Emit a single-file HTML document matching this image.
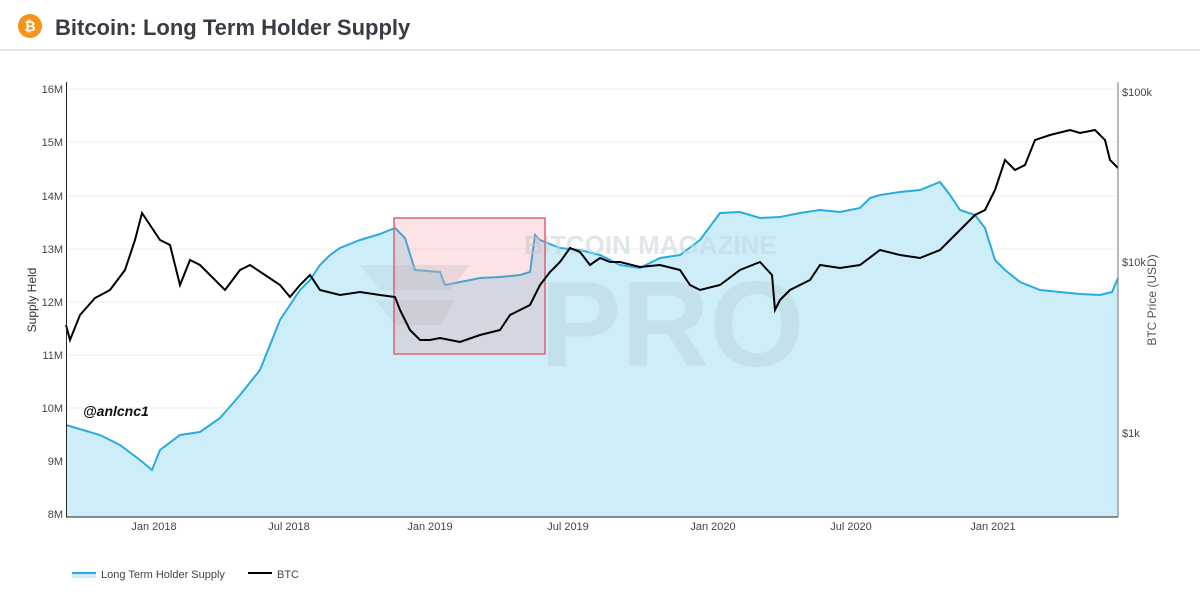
<!DOCTYPE html>
<html><head><meta charset="utf-8"><style>
body{margin:0;width:1200px;height:597px;background:#fff;font-family:"Liberation Sans",sans-serif;overflow:hidden;position:relative}
</style></head><body>
<svg width="1200" height="597" style="position:absolute;left:0;top:0" font-family="Liberation Sans, sans-serif">
<circle cx="30" cy="26" r="12" fill="#f7931a"/>
<text x="30" y="31" font-size="14" font-weight="bold" fill="#fff" text-anchor="middle">₿</text>
<text x="55" y="35" font-size="22" font-weight="bold" fill="#383c44">Bitcoin: Long Term Holder Supply</text>
<rect x="0" y="49" width="1200" height="2" fill="#e6e6e6"/>
<g stroke="#eeeeee" stroke-width="1">
<line x1="66" x2="1118" y1="89" y2="89"/><line x1="66" x2="1118" y1="142" y2="142"/><line x1="66" x2="1118" y1="196" y2="196"/><line x1="66" x2="1118" y1="249" y2="249"/><line x1="66" x2="1118" y1="302" y2="302"/><line x1="66" x2="1118" y1="355" y2="355"/><line x1="66" x2="1118" y1="408" y2="408"/><line x1="66" x2="1118" y1="461" y2="461"/><line x1="66" x2="1118" y1="514" y2="514"/>
</g>
<path fill="#cdeef9" d="M66,425 L100,435 120,445 140,460 152,470 160,450 180,435 200,432 220,418 240,395 260,370 270,345 280,320 290,305 300,290 310,280 320,265 330,255 340,248 360,240 380,234 395,228 405,238 415,270 440,272 445,285 460,282 480,278 500,277 520,275 530,272 535,235 540,240 560,248 580,250 600,255 620,265 640,268 660,258 680,255 700,240 720,213 740,212 760,218 780,217 800,213 820,210 840,212 860,208 870,198 880,195 900,192 920,190 940,182 950,195 960,210 975,215 985,228 995,260 1005,270 1020,282 1040,290 1060,292 1080,294 1100,295 1112,292 1118,278 L1118,517 L66,517Z"/>
<path fill="none" stroke="#29abe2" stroke-width="2" d="M66,425 L100,435 120,445 140,460 152,470 160,450 180,435 200,432 220,418 240,395 260,370 270,345 280,320 290,305 300,290 310,280 320,265 330,255 340,248 360,240 380,234 395,228 405,238 415,270 440,272 445,285 460,282 480,278 500,277 520,275 530,272 535,235 540,240 560,248 580,250 600,255 620,265 640,268 660,258 680,255 700,240 720,213 740,212 760,218 780,217 800,213 820,210 840,212 860,208 870,198 880,195 900,192 920,190 940,182 950,195 960,210 975,215 985,228 995,260 1005,270 1020,282 1040,290 1060,292 1080,294 1100,295 1112,292 1118,278"/>
<text x="524" y="254" font-size="26" font-weight="bold" fill="#c5d5dc" opacity="0.55">BITCOIN MAGAZINE</text>
<text x="540" y="366" font-size="122" font-weight="bold" fill="#b8cdd6" opacity="0.4">PRO</text>
<path d="M360,265 L470,265 L450,290 L380,290Z M375,300 L455,300 L440,325 L395,325Z" fill="#b8cdd6" opacity="0.35"/>
<rect x="394" y="218" width="151" height="136" fill="rgba(240,120,130,0.2)" stroke="#e06070" stroke-width="1.5"/>
<path fill="none" stroke="#000" stroke-width="2" d="M66,325 L70,340 80,315 95,298 110,290 125,270 135,240 142,213 150,225 160,240 170,245 180,285 190,260 200,265 210,275 225,290 240,270 250,265 265,275 280,285 290,297 300,285 310,275 320,290 340,295 360,292 380,295 395,297 400,310 410,330 420,340 430,340 440,338 460,342 480,335 500,330 510,315 530,305 540,285 550,272 560,262 570,248 580,252 590,265 600,258 610,262 620,262 640,267 660,265 680,270 690,285 700,290 720,285 740,270 760,262 772,275 775,310 780,300 790,290 810,280 820,265 840,268 860,265 880,250 900,255 920,258 940,250 955,235 975,215 985,210 995,190 1005,160 1015,170 1025,165 1035,140 1050,135 1070,130 1080,133 1095,130 1105,140 1110,160 1118,168"/>
<line x1="66.5" y1="82" x2="66.5" y2="517" stroke="#222"/>
<line x1="66" y1="517" x2="1118" y2="517" stroke="#222"/>
<line x1="1118" y1="82" x2="1118" y2="517" stroke="#777"/>
<g font-size="11" fill="#444" text-anchor="end">
<text x="63" y="93">16M</text><text x="63" y="146">15M</text><text x="63" y="200">14M</text><text x="63" y="253">13M</text><text x="63" y="306">12M</text><text x="63" y="359">11M</text><text x="63" y="412">10M</text><text x="63" y="465">9M</text><text x="63" y="518">8M</text>
</g>
<g font-size="11" fill="#444">
<text x="1122" y="96">$100k</text><text x="1122" y="266">$10k</text><text x="1122" y="437">$1k</text>
</g>
<g font-size="11" fill="#444" text-anchor="middle">
<text x="154" y="530">Jan 2018</text><text x="289" y="530">Jul 2018</text><text x="430" y="530">Jan 2019</text><text x="568" y="530">Jul 2019</text><text x="713" y="530">Jan 2020</text><text x="851" y="530">Jul 2020</text><text x="993" y="530">Jan 2021</text>
</g>
<text transform="translate(36,300) rotate(-90)" font-size="12" fill="#333" text-anchor="middle">Supply Held</text>
<text transform="translate(1156,300) rotate(-90)" font-size="12" fill="#555" text-anchor="middle">BTC Price (USD)</text>
<text x="83" y="416" font-size="14" font-weight="bold" font-style="italic" fill="#111">@anlcnc1</text>
<rect x="72" y="572" width="24" height="6" fill="#cdeef9"/>
<line x1="72" y1="573" x2="96" y2="573" stroke="#29abe2" stroke-width="2"/>
<text x="101" y="578" font-size="11" fill="#444">Long Term Holder Supply</text>
<line x1="248" y1="573" x2="272" y2="573" stroke="#000" stroke-width="2"/>
<text x="277" y="578" font-size="11" fill="#444">BTC</text>
</svg>
</body></html>
